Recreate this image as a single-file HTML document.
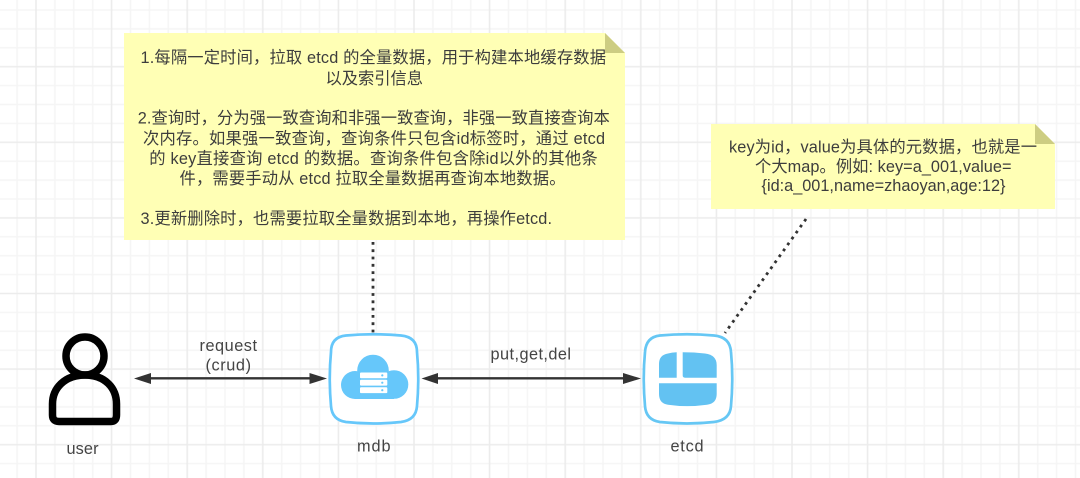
<!DOCTYPE html>
<html><head><meta charset="utf-8"><style>
html,body{margin:0;padding:0;background:#fff}
svg{display:block}
text{font-family:"Liberation Sans","Noto Sans CJK SC",sans-serif;fill:#3d3d3d;font-size:16.3px;text-anchor:start}
.l{fill:#444}
</style></head><body>
<svg width="1080" height="478" viewBox="0 0 1080 478" xmlns="http://www.w3.org/2000/svg">
<defs>
<pattern id="g" x="26.55" y="57.25" width="75.6" height="75.6" patternUnits="userSpaceOnUse">
<path d="M28.35 0V75.6M47.25 0V75.6M66.15 0V75.6M0 28.35H75.6M0 47.25H75.6M0 66.15H75.6" stroke="#f5f5f5" stroke-width="1.500" fill="none"/>
<path d="M9.45 0V75.6M0 9.45H75.6" stroke="#ececec" stroke-width="1.600" fill="none"/>
</pattern>
</defs>
<rect width="1080" height="478" fill="#fff"/>
<rect width="1080" height="478" fill="url(#g)"/>

<!-- Dotted connectors -->
<path d="M373 242V333" stroke="#333" stroke-width="2.800" stroke-dasharray="2.800 4.500" fill="none"/>
<path d="M806 219L725 333" stroke="#333" stroke-width="2.800" stroke-dasharray="2.800 4.500" fill="none"/>

<!-- Note 1 -->
<path d="M124 33H605L625 53V240H124Z" fill="#ffffb5"/>
<path d="M605 33L625 53H605Z" fill="#cdcd82"/>
<text x="140.500" y="63" textLength="465.500">1.每隔一定时间，拉取 etcd 的全量数据，用于构建本地缓存数据</text>
<text x="325.500" y="84" textLength="97.500">以及索引信息</text>
<text x="137.800" y="123.500" textLength="472">2.查询时，分为强一致查询和非强一致查询，非强一致直接查询本</text>
<text x="143" y="144" textLength="462">次内存。如果强一致查询，查询条件只包含id标签时，通过 etcd</text>
<text x="149.200" y="164" textLength="448.500">的 key直接查询 etcd 的数据。查询条件包含除id以外的其他条</text>
<text x="179.500" y="184" textLength="386">件，需要手动从 etcd 拉取全量数据再查询本地数据。</text>
<text x="140.500" y="224" textLength="411.500">3.更新删除时，也需要拉取全量数据到本地，再操作etcd.</text>

<!-- Note 2 -->
<path d="M711 124H1035L1055 144V209H711Z" fill="#ffffb5"/>
<path d="M1035 124L1055 144H1035Z" fill="#cdcd82"/>
<text x="729" y="152.500" textLength="308">key为id，value为具体的元数据，也就是一</text>
<text x="755" y="172" textLength="256.500">个大map。例如: key=a_001,value=</text>
<text x="761.500" y="191" textLength="244">{id:a_001,name=zhaoyan,age:12}</text>

<!-- User -->
<g fill="none" stroke="#000" stroke-width="7.500">
<circle cx="85" cy="356" r="19"/>
<path d="M85 375C65 375 52.500 388 52.500 404V415Q52.500 421.500 59 421.500H111Q116.500 421.500 116.500 415V404C116.500 388 105 375 85 375Z" stroke-linejoin="round"/>
</g>
<text class="l" x="66.500" y="454" textLength="32">user</text>

<!-- Arrows -->
<g fill="#333">
<path d="M150 378.300H315" stroke="#333" stroke-width="2.400"/>
<path d="M134 378.500L151 373V384Z"/>
<path d="M327 378.500L309.500 373V384Z"/>
<path d="M437 378.300H626" stroke="#333" stroke-width="2.400"/>
<path d="M421.500 378.500L438 373V384Z"/>
<path d="M641 378.500L623 373V384Z"/>
</g>
<text class="l" x="199.500" y="351" textLength="57.500">request</text>
<text class="l" x="205.500" y="370.500" textLength="45.500">(crud)</text>
<text class="l" x="490.500" y="359.500" textLength="80.500">put,get,del</text>

<!-- mdb -->
<path d="M346 335.500Q373 333 401 335.500Q417 337 417 352Q419.500 378 417 406Q416 420 401 422Q373 425 346 422Q332 420 331 406Q328.500 378 331 352Q331 337 346 335.500Z" fill="#fff" stroke="#66c7fa" stroke-width="2.700"/>
<g fill="#66c7fa">
<circle cx="355" cy="385" r="14"/>
<circle cx="394" cy="384.500" r="14.300"/>
<circle cx="373" cy="370.500" r="15.800"/>
<rect x="355" y="375" width="39" height="24"/>
</g>
<g fill="#fff">
<rect x="360" y="372.500" width="27.300" height="5.800" rx="1"/>
<rect x="360" y="379.800" width="27.300" height="5.800" rx="1"/>
<rect x="360" y="387.300" width="27.300" height="5.800" rx="1"/>
</g>
<g fill="#66c7fa"><circle cx="382.300" cy="375.400" r="1.100"/><circle cx="382.300" cy="382.700" r="1.100"/><circle cx="382.300" cy="390.200" r="1.100"/></g>
<text class="l" x="357" y="451.700" textLength="33.500">mdb</text>

<!-- etcd -->
<path d="M660 335.500Q687 333 714 335.500Q730 337 731 352Q733.500 378 731 406Q730 420 714 422Q687 425 660 422Q646 420 645 406Q642.500 378 645 352Q646 337 660 335.500Z" fill="#fff" stroke="#66c7f4" stroke-width="2.700"/>
<g fill="#63c2f2">
<path d="M676.700 352.300V377.700H659V364Q659 355 668 353.500Q672 352.500 676.700 352.300Z"/>
<path d="M682.700 352.300Q694 352.300 705 353.500Q716.700 355 716.700 365V377.700H685Q682.700 377.700 682.700 375.500Z"/>
<path d="M659 383.300H716.700V394Q716.700 403.500 707 404.700Q687 407.500 668 404.700Q659 403.500 659 394Z"/>
</g>
<text class="l" x="670.500" y="451.700" textLength="33">etcd</text>
</svg>
</body></html>
